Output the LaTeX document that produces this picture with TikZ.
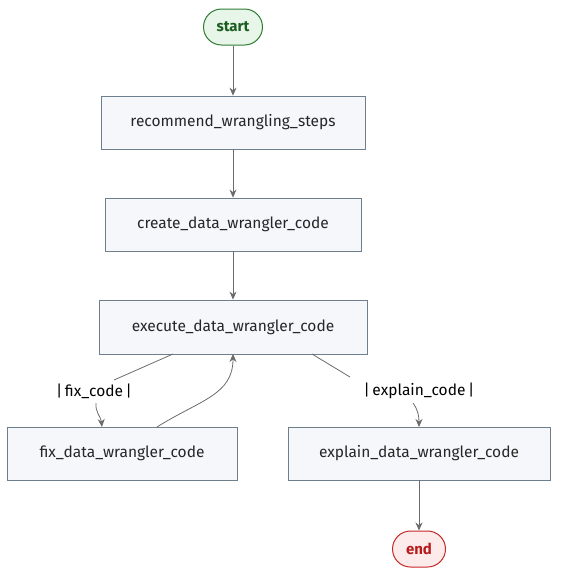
\documentclass[tikz,border=0pt]{standalone}
\usepackage{fontspec}
\setmainfont{Fira Sans}
\usetikzlibrary{arrows.meta,calc}
\definecolor{boxfill}{HTML}{F5F7FA}
\definecolor{boxdraw}{HTML}{6F7E8C}
\definecolor{edgecol}{HTML}{6B6B6B}
\definecolor{startfill}{HTML}{E8F5E9}
\definecolor{startdraw}{HTML}{2E7D32}
\definecolor{starttext}{HTML}{1B5E20}
\definecolor{endfill}{HTML}{FDEAEA}
\definecolor{enddraw}{HTML}{C62828}
\definecolor{endtext}{HTML}{B71C1C}
\begin{document}
\begin{tikzpicture}[x=1pt,y=-1pt,
  every node/.style={font=\fontsize{15.5}{18}\selectfont},
  stepbox/.style={draw=boxdraw,fill=boxfill,line width=0.8pt,minimum height=53pt,inner sep=0pt,text=black!85},
  startbox/.style={draw=startdraw,fill=startfill,line width=1pt,rounded corners=18pt,minimum width=59pt,minimum height=36pt,font=\fontsize{15}{18}\selectfont\bfseries,text=starttext},
  endbox/.style={draw=enddraw,fill=endfill,line width=1pt,rounded corners=18pt,minimum width=53pt,minimum height=36pt,font=\fontsize{15}{18}\selectfont\bfseries,text=endtext},
  edge/.style={draw=edgecol,line width=0.8pt},
  arr/.style={edge,-{Stealth[length=8pt,width=7pt]}},
  lbl/.style={inner sep=1pt,text=black}
]
\useasboundingbox (0,0) rectangle (566,584);
\node[startbox] (start) at (233,27) {start};
\node[stepbox,minimum width=264pt] (rec) at (233,122.5) {recommend\_wrangling\_steps};
\node[stepbox,minimum width=256pt] (create) at (233,224.5) {create\_data\_wrangler\_code};
\node[stepbox,minimum width=268pt,minimum height=54pt] (exec) at (233,327) {execute\_data\_wrangler\_code};
\node[stepbox,minimum width=230pt] (fix) at (122,453.5) {fix\_data\_wrangler\_code};
\node[stepbox,minimum width=262pt] (expl) at (419,453.5) {explain\_data\_wrangler\_code};
\node[endbox] (end) at (419,549) {end};
\node[lbl] (lfix) at (94,391) {|\,fix\_code\,|};
\node[lbl] (lexpl) at (419,391) {|\,explain\_code\,|};

\draw[arr] (start) -- (rec);
\draw[arr] (rec) -- (create);
\draw[arr] (create) -- (exec);
\draw[arr] (expl) -- (end);

\coordinate (e1) at (173,354);
\coordinate (e2) at (312,354);
\coordinate (f1) at (102,427);
\coordinate (f2) at (157,427);
\coordinate (x1) at (419,427);
\coordinate (ein) at (233,354);

\draw[edge] (e1) -- (114,380);
\draw[arr] (96,403) .. controls (95,412) and (101,417) .. (f1);
\draw[edge] (e2) -- (350,377);
\draw[arr] (413,403) .. controls (418,410) and (419,416) .. (x1);
\draw[arr] (f2) .. controls (200,400) and (233,395) .. (ein);
\end{tikzpicture}
\end{document}
